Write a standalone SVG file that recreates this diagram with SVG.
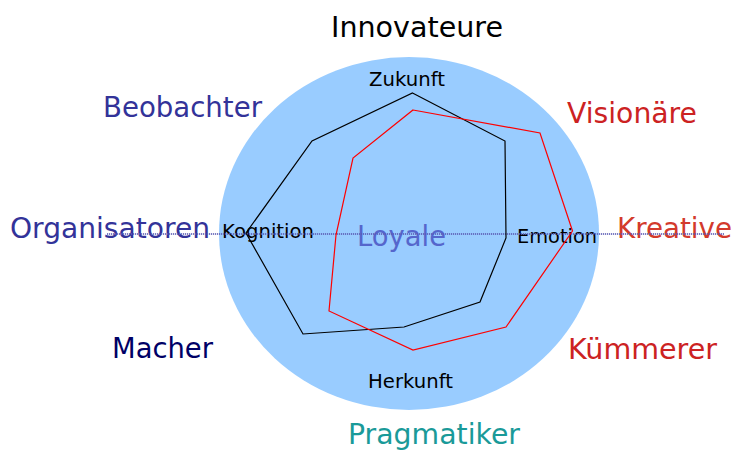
<svg xmlns="http://www.w3.org/2000/svg" width="733" height="453" viewBox="0 0 733 453">
<style>
text{font-family:"DejaVu Sans","Verdana",sans-serif}
.big{font-size:27.5px}
.small{font-size:19px;fill:#000}
.poly{fill:none;stroke-width:1.2}
</style>
<rect width="733" height="453" fill="#fff"/>
<g id="circle"><ellipse cx="409" cy="233.5" rx="190" ry="176.5" fill="#99ccff"/></g>
<g id="innovateure"><text class="big" x="417" y="37" text-anchor="middle" fill="#000" textLength="172" lengthAdjust="spacingAndGlyphs">Innovateure</text></g>
<g id="beobachter"><text class="big" x="103" y="117" fill="#333399" textLength="159" lengthAdjust="spacingAndGlyphs">Beobachter</text></g>
<g id="visionaere"><text class="big" x="567" y="123" fill="#cc2222" textLength="130" lengthAdjust="spacingAndGlyphs">Visionäre</text></g>
<g id="organisatoren"><text class="big" x="10" y="237.5" fill="#333399" textLength="200" lengthAdjust="spacingAndGlyphs">Organisatoren</text></g>
<g id="kreative"><text class="big" x="617" y="237.5" fill="#d33a2c" textLength="115" lengthAdjust="spacingAndGlyphs">Kreative</text></g>
<g id="loyale"><text class="big" x="357" y="246" fill="#5566cc" textLength="89" lengthAdjust="spacingAndGlyphs">Loyale</text></g>
<g id="macher"><text class="big" x="112" y="358" fill="#000066" textLength="101" lengthAdjust="spacingAndGlyphs">Macher</text></g>
<g id="kuemmerer"><text class="big" x="568" y="358.5" fill="#cc2222" textLength="149" lengthAdjust="spacingAndGlyphs">Kümmerer</text></g>
<g id="pragmatiker"><text class="big" x="348" y="443.5" fill="#1a9a99" textLength="172" lengthAdjust="spacingAndGlyphs">Pragmatiker</text></g>
<g id="zukunft"><text class="small" x="407" y="86" text-anchor="middle" textLength="76" lengthAdjust="spacingAndGlyphs">Zukunft</text></g>
<g id="kognition"><text class="small" x="222" y="237.5" textLength="92" lengthAdjust="spacingAndGlyphs">Kognition</text></g>
<g id="emotion"><text class="small" x="517" y="242.5" textLength="80" lengthAdjust="spacingAndGlyphs">Emotion</text></g>
<g id="herkunft"><text class="small" x="368" y="388" textLength="85" lengthAdjust="spacingAndGlyphs">Herkunft</text></g>
<g id="connectors">
<line x1="107" y1="234" x2="724" y2="234" stroke="#5a5ab4" stroke-opacity="0.8" stroke-width="1.8" stroke-dasharray="1.2,0.8"/>
<polygon class="poly" stroke="#000" points="412.5,93 505,141 506,238 480,302 404,327 303,334 246,233 312,141"/>
<polygon class="poly" stroke="#ff0000" points="413,110 540,133 572.5,231 506,327 413,350 329,311 336,235 353,158"/>
</g>
</svg>
